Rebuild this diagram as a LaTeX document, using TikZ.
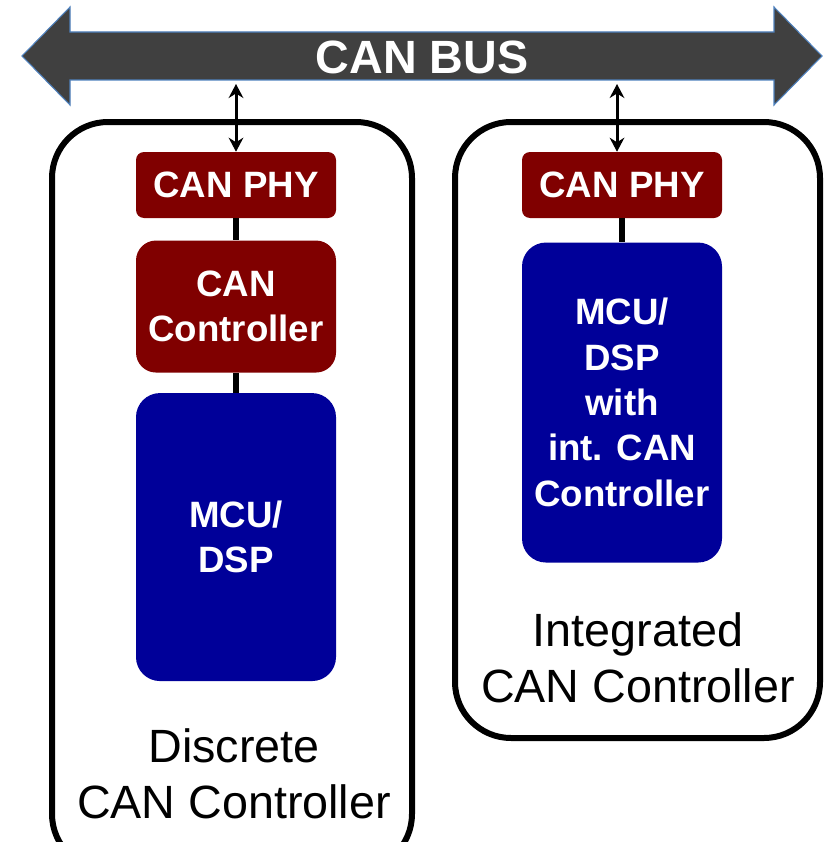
\documentclass[tikz,border=0pt]{standalone}
\usepackage{fontspec}
\setmainfont{Liberation Sans}
\usetikzlibrary{arrows.meta, positioning}
\definecolor{canred}{RGB}{128,0,0}
\definecolor{canblue}{RGB}{0,0,153}
\definecolor{busgray}{RGB}{64,64,64}
\definecolor{busedge}{RGB}{79,129,189}

\begin{document}
\begin{tikzpicture}[x=0.75pt, y=-0.75pt,
    redbox/.style={fill=canred, rounded corners=6pt, text=white, inner sep=0pt, align=center, minimum width=150pt, font=\fontsize{27.5}{34}\selectfont\bfseries},
    bluebox/.style={fill=canblue, rounded corners=18pt, text=white, inner sep=0pt, align=center, minimum width=150pt, font=\fontsize{27.5}{34}\selectfont\bfseries},
    outerbox/.style={draw, line width=4.5pt, rounded corners=42pt},
    caption/.style={align=center, font=\fontsize{35}{42}\selectfont},
    link/.style={line width=4pt},
    tap/.style={line width=2.25pt, {Stealth[length=10.5pt,width=11pt]}-{Stealth[length=10.5pt,width=11pt]}}]
    \useasboundingbox (0,0) rectangle (827,842);

    \draw[outerbox] (52,122) rectangle (412,870);
    \draw[outerbox] (455,122) rectangle (820,738);

    \draw[fill=busgray, draw=busedge, line width=0.8pt] (22,56) -- (70,7) -- (70,32) -- (774,32) -- (774,7) -- (822,56) -- (774,105) -- (774,80) -- (70,80) -- (70,105) -- cycle;
    \node[text=white, font=\fontsize{35}{40}\selectfont\bfseries] (bus) at (422,57) {CAN BUS};
    \coordinate (tapL) at (236,84);
    \coordinate (tapR) at (617,84);

    \node[redbox, minimum height=49.5pt] (phyL) at (236,185) {CAN PHY};
    \node[redbox, rounded corners=15pt, minimum height=99pt, below=16.5pt of phyL] (ctrlL) {CAN\\Controller};
    \node[bluebox, minimum height=216pt, below=15pt of ctrlL] (mcuL) {MCU/\\DSP};
    \node[redbox, minimum height=49.5pt] (phyR) at (622,185) {CAN PHY};
    \node[bluebox, minimum height=240pt, below=18pt of phyR] (mcuR) {MCU/\\DSP\\ with\\int. CAN\\Controller};

    \node[caption] (capL) at (234,774) {Discrete\\CAN Controller};
    \node[caption] (capR) at (638,658) {Integrated\\CAN Controller};

    \draw[tap] (tapL) -- (phyL.north);
    \draw[tap] (tapR) -- (tapR |- phyR.north);
    \draw[link] (phyL) -- (ctrlL);
    \draw[link] (ctrlL) -- (mcuL);
    \draw[link] (phyR) -- (mcuR);
\end{tikzpicture}
\end{document}
